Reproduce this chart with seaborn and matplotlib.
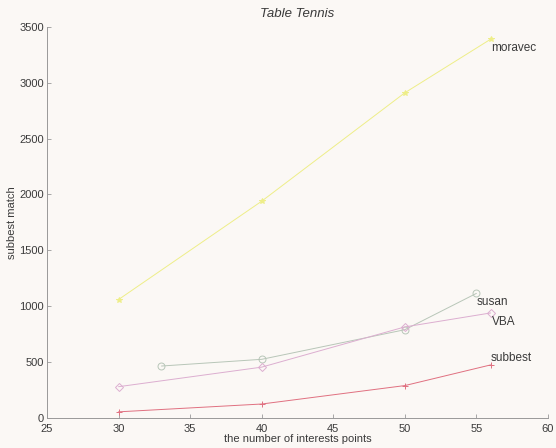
import matplotlib
matplotlib.use("Agg")
import matplotlib.pyplot as plt
import seaborn as sns
import pandas as pd

# Data
moravec_x = [30, 40, 50, 56]
moravec_y = [1060, 1940, 2910, 3390]
susan_x = [33, 40, 50, 55]
susan_y = [465, 525, 790, 1115]
vba_x = [30, 40, 50, 56]
vba_y = [280, 455, 815, 940]
subbest_x = [30, 40, 50, 56]
subbest_y = [55, 125, 290, 475]

series = {
    "moravec": (moravec_x, moravec_y),
    "susan": (susan_x, susan_y),
    "VBA": (vba_x, vba_y),
    "subbest": (subbest_x, subbest_y),
}
colors = {"moravec": "#eeee88", "susan": "#b8c6b8", "VBA": "#dcaed0", "subbest": "#e07080"}
markers = {"moravec": "*", "susan": "o", "VBA": "D", "subbest": "+"}
msizes = {"moravec": 4, "susan": 5, "VBA": 4, "subbest": 5}
label_offsets = {"moravec": (0, -2), "susan": (0, -2), "VBA": (1, -2), "subbest": (0, 9)}

sns.set_style("white")
plt.rcParams["font.family"] = ["Liberation Sans", "DejaVu Sans"]
bg = "#fbf8f5"
txt = "#3a3a3a"

fig = plt.figure(figsize=(5.56, 4.48), dpi=100, facecolor=bg)
ax = fig.add_axes([0.0845, 0.067, 0.901, 0.873], facecolor=bg)

for name, (xs, ys) in series.items():
    df = pd.DataFrame({"x": xs, "y": ys})
    sns.lineplot(data=df, x="x", y="y", ax=ax, color=colors[name], lw=0.7,
                 marker=markers[name], markersize=msizes[name],
                 markerfacecolor="none" if markers[name] in "oD" else colors[name],
                 markeredgecolor=colors[name], markeredgewidth=0.7)
    ax.annotate(name, (xs[-1], ys[-1]), xytext=label_offsets[name],
                textcoords="offset points", ha="left", va="top",
                fontsize=8.5, color=txt)

ax.set_xlim(25, 60)
ax.set_ylim(0, 3500)
ax.set_xticks(range(25, 61, 5))
ax.set_yticks(range(0, 3501, 500))
ax.tick_params(bottom=True, left=True, direction="in", length=3, labelsize=8,
               colors="#999999", labelcolor=txt, width=0.6, pad=2)
ax.tick_params(axis="x", pad=4)
for s in ["top", "right"]:
    ax.spines[s].set_visible(False)
for s in ["left", "bottom"]:
    ax.spines[s].set_color("#999999")
    ax.spines[s].set_linewidth(0.7)

ax.set_title("Table Tennis", fontsize=9.5, style="italic", color=txt, pad=7)
ax.set_xlabel("the number of interests points", fontsize=8, color=txt, labelpad=0)
ax.set_ylabel("subbest match", fontsize=8, color=txt, labelpad=2)

fig.savefig("out.png", dpi=100, facecolor=bg)
